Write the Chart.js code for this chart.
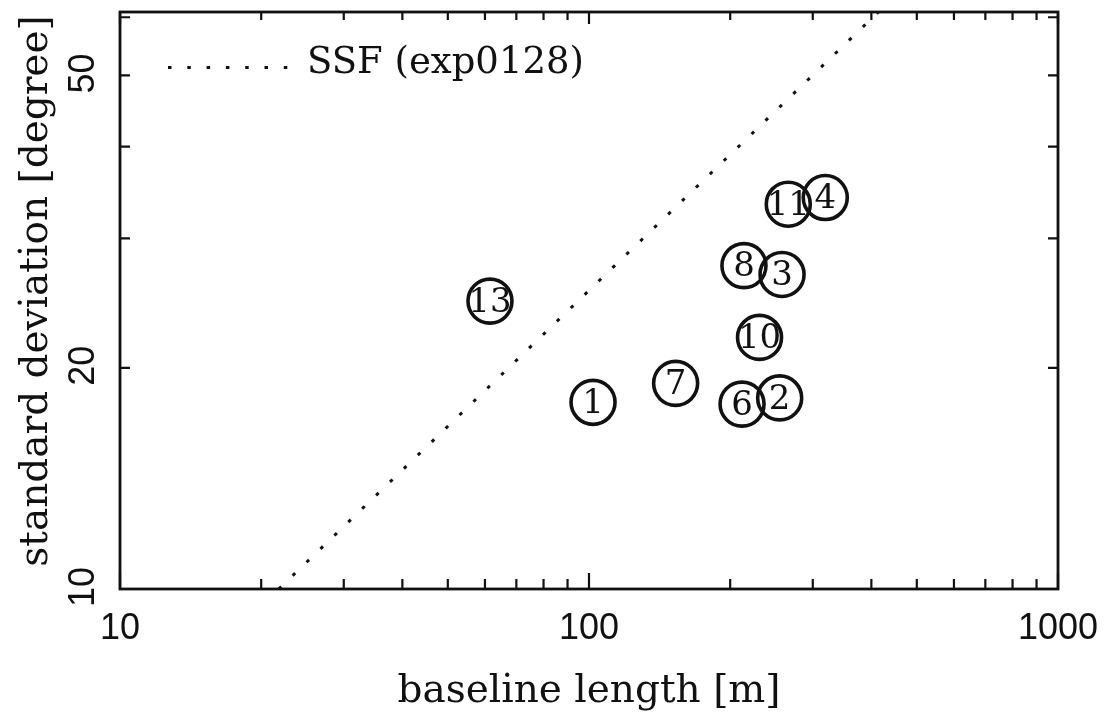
<!DOCTYPE html>
<html>
<head>
<meta charset="utf-8">
<script src="https://cdn.jsdelivr.net/npm/chart.js@4/dist/chart.umd.min.js"></script>
<style>
  html, body { margin: 0; padding: 0; background: #fff; }
  canvas { display: block; }
</style>
</head>
<body>
<canvas id="c" width="1108" height="724"></canvas>
<script>
// Station numbers with baseline length [m] and standard deviation [degree]
const stationIds = ['1', '2', '3', '4', '6', '7', '8', '10', '11', '13'];
const baselineLength = [102, 255, 258, 319, 212, 153, 214, 231, 266, 61.5];
const stdDeviation = [17.95, 18.2, 26.8, 34.1, 17.85, 19.05, 27.55, 22.0, 33.4, 24.65];

// SSF reference line (exp0128), straight in log-log space
const ssfBaseline = [21.8, 414];
const ssfStdDev = [10, 61];
const ssfLabel = 'SSF (exp0128)';

// Axis ticks
const xTickValues = [10, 20, 30, 40, 50, 60, 70, 80, 90, 100, 200, 300, 400, 500, 600, 700, 800, 900, 1000];
const xTickLabels = [10, 100, 1000];
const yTickValues = [10, 20, 30, 40, 50, 60];
const yTickLabels = [10, 20, 50];

const xTitle = 'baseline length [m]';
const yTitle = 'standard deviation [degree]';

const INK = '#111111';
const SERIF = '"DejaVu Serif", "Liberation Serif", serif';
const SANS = '"Liberation Sans", "DejaVu Sans", sans-serif';

const stationPoints = baselineLength.map((b, i) => ({ x: b, y: stdDeviation[i] }));
const ssfPoints = ssfBaseline.map((b, i) => ({ x: b, y: ssfStdDev[i] }));

// Frame, inward ticks, labels, titles, legend and station numbers
const decorations = {
  id: 'decorations',
  afterDatasetsDraw(chart) {
    const ctx = chart.ctx;
    const xs = chart.scales.x, ys = chart.scales.y;
    const a = chart.chartArea;
    ctx.save();
    ctx.strokeStyle = INK;
    ctx.fillStyle = INK;

    // frame
    ctx.lineWidth = 2.8;
    ctx.strokeRect(a.left, a.top, a.right - a.left, a.bottom - a.top);

    // x ticks on bottom and top
    ctx.lineWidth = 2.2;
    xTickValues.forEach(v => {
      const px = xs.getPixelForValue(v);
      const major = xTickLabels.includes(v);
      const len = major ? 16 : 10;
      ctx.beginPath();
      ctx.moveTo(px, a.bottom); ctx.lineTo(px, a.bottom - len);
      ctx.moveTo(px, a.top); ctx.lineTo(px, a.top + (major ? 12 : 8));
      ctx.stroke();
    });
    // y ticks on left and right
    yTickValues.forEach(v => {
      const py = ys.getPixelForValue(v);
      ctx.beginPath();
      ctx.moveTo(a.left, py); ctx.lineTo(a.left + 10, py);
      ctx.moveTo(a.right, py); ctx.lineTo(a.right - 10, py);
      ctx.stroke();
    });

    // tick labels
    ctx.font = '36px ' + SANS;
    ctx.textAlign = 'center';
    ctx.textBaseline = 'middle';
    xTickLabels.forEach(v => {
      ctx.fillText(String(v), xs.getPixelForValue(v), 629);
    });
    yTickLabels.forEach(v => {
      const py = ys.getPixelForValue(v);
      ctx.save();
      ctx.translate(84, py - 2);
      ctx.rotate(-Math.PI / 2);
      ctx.fillText(String(v), 0, 0);
      ctx.restore();
    });

    // axis titles
    ctx.font = '39px ' + SERIF;
    ctx.fillText(xTitle, (a.left + a.right) / 2, 692);
    ctx.save();
    ctx.translate(37, 291);
    ctx.rotate(-Math.PI / 2);
    ctx.fillText(yTitle, 0, 0);
    ctx.restore();

    // legend
    const ssfSet = chart.data.datasets[0];
    ctx.save();
    ctx.lineWidth = ssfSet.borderWidth;
    ctx.setLineDash(ssfSet.borderDash);
    ctx.beginPath();
    ctx.moveTo(168, 67.5); ctx.lineTo(290, 67.5);
    ctx.stroke();
    ctx.restore();
    ctx.font = '37px ' + SERIF;
    ctx.textAlign = 'left';
    ctx.fillText(ssfLabel, 307, 63);

    // station numbers inside circles
    ctx.font = '34px ' + SERIF;
    ctx.textAlign = 'center';
    const meta = chart.getDatasetMeta(1);
    meta.data.forEach((pt, i) => {
      ctx.fillText(stationIds[i], pt.x, pt.y + 2);
    });

    ctx.restore();
  }
};

new Chart(document.getElementById('c'), {
  type: 'scatter',
  data: {
    datasets: [
      {
        label: ssfLabel,
        data: ssfPoints,
        showLine: true,
        borderColor: INK,
        borderWidth: 3,
        borderDash: [3.5, 15.8],
        pointRadius: 0,
        fill: false
      },
      {
        label: 'stations',
        data: stationPoints,
        pointStyle: 'circle',
        pointRadius: 22,
        pointBorderWidth: 3.6,
        borderColor: INK,
        backgroundColor: 'rgba(0,0,0,0)',
        pointBackgroundColor: 'rgba(0,0,0,0)',
        pointBorderColor: INK
      }
    ]
  },
  options: {
    responsive: false,
    animation: false,
    devicePixelRatio: 1,
    layout: { autoPadding: false, padding: { left: 120, right: 50, top: 12, bottom: 135 } },
    plugins: { legend: { display: false }, tooltip: { enabled: false } },
    scales: {
      x: { type: 'logarithmic', min: 10, max: 1000, display: false },
      y: { type: 'logarithmic', min: 10, max: 61, display: false }
    }
  },
  plugins: [decorations]
});
</script>
</body>
</html>
